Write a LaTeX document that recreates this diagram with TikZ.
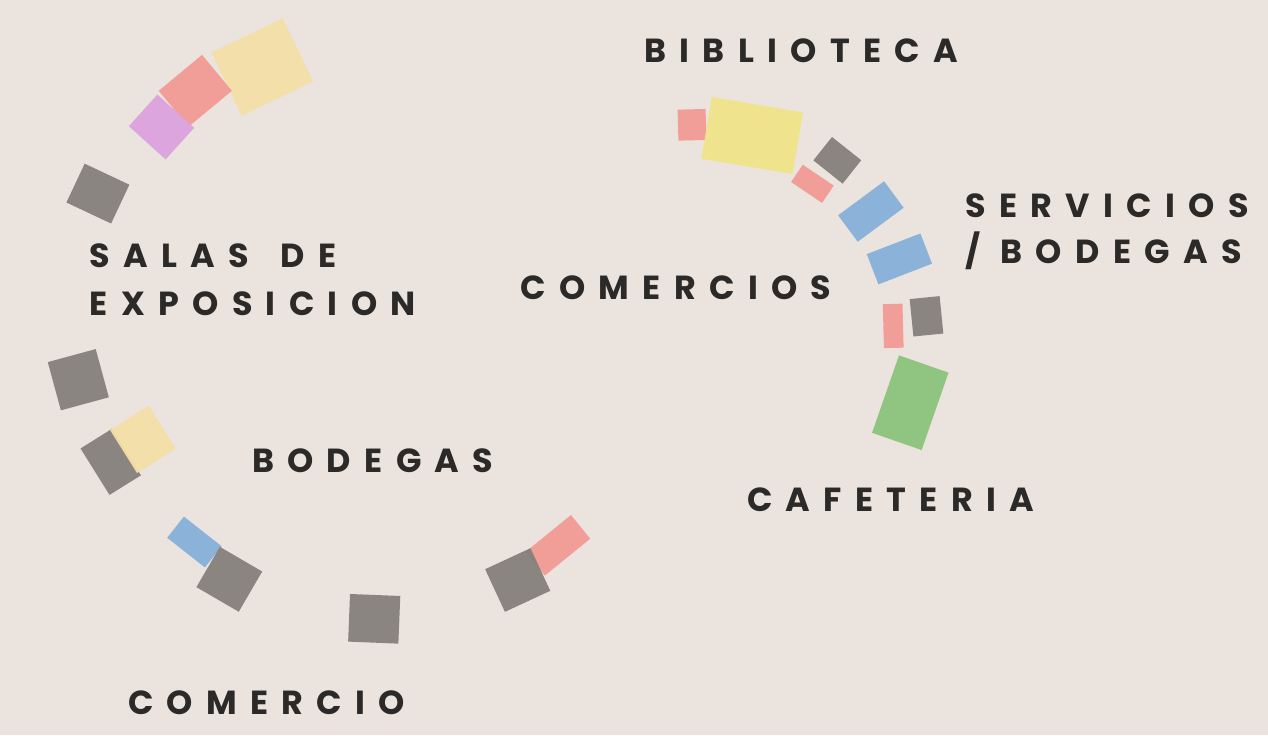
\documentclass[tikz,border=0pt]{standalone}
\usepackage{fontspec}
\newfontfamily\lblfont{Poppins}[LetterSpace=40]
\definecolor{fondo}{HTML}{EBE3DD}
\definecolor{gris}{HTML}{84807C}
\definecolor{salmon}{HTML}{F39A94}
\definecolor{crema}{HTML}{F3DFA6}
\definecolor{limon}{HTML}{F1E48A}
\definecolor{lila}{HTML}{DDA2DF}
\definecolor{celeste}{HTML}{86B1DA}
\definecolor{verde}{HTML}{8AC47C}
\definecolor{tinta}{HTML}{2B2A28}
\tikzset{
  tile/.style n args={3}{draw=none, inner sep=0pt, outer sep=0pt, fill opacity=0.94,
    minimum width=#1*0.2mm, minimum height=#2*0.2mm, rotate=#3},
  zona/.style={font=\lblfont\bfseries\fontsize{19}{22}\selectfont, text=tinta,
    inner sep=0pt, anchor=base west},
}

\begin{document}
\begin{tikzpicture}[x=0.02cm, y=-0.02cm]
\useasboundingbox (0,0) rectangle (1268,735);
\fill[fondo] (0,0) rectangle (1268,735);
% arco izquierdo
\node[tile={79.2}{70}{25.8}, fill=crema] (t1) at (262.2,67) {};
\node[tile={56.3}{46.7}{39.7}, fill=salmon] (t2) at (195.3,90.8) {};
\node[tile={42.6}{49.6}{47.9}, fill=lila] (t3) at (161.5,127) {};
\node[tile={49.4}{42.9}{-25.2}, fill=gris] (t4) at (97.9,193.6) {};
\node[tile={49.7}{50}{15.2}, fill=gris] (t5) at (78.3,379.7) {};
\node[tile={37}{54.8}{32}, fill=gris] (t6) at (110.7,461.9) {};
\node[tile={45.7}{50.8}{32.1}, fill=crema] (t7) at (142.9,439.4) {};
\node[tile={48}{27}{-38.2}, fill=celeste] (t8) at (194.4,542) {};
\node[tile={49}{46.6}{-30.2}, fill=gris] (t9) at (229.3,579.3) {};
\node[tile={50.3}{47.7}{-2.3}, fill=gris] (t10) at (374.2,618.8) {};
\node[tile={58.5}{30.5}{39.1}, fill=salmon] (t11) at (557.9,545.3) {};
\node[tile={50}{47}{24.9}, fill=gris] (t12) at (517.7,580) {};
% arco derecho
\node[tile={28}{31}{1.5}, fill=salmon] (t13) at (692,124.8) {};
\node[tile={92.6}{62.6}{-9.5}, fill=limon] (t14) at (752.2,135.5) {};
\node[tile={37.4}{29.9}{-38.5}, fill=gris] (t15) at (837.3,160.3) {};
\node[tile={37.4}{20.9}{-34.1}, fill=salmon] (t16) at (812.4,183.8) {};
\node[tile={57.2}{32.9}{36.5}, fill=celeste] (t17) at (870.9,211.5) {};
\node[tile={57.5}{32.4}{21.1}, fill=celeste] (t18) at (899.4,258.9) {};
\node[tile={19.7}{44}{1.5}, fill=salmon] (t19) at (893.2,325.9) {};
\node[tile={30.1}{37.6}{5.7}, fill=gris] (t20) at (926.5,316.3) {};
\node[tile={52.5}{82}{-19.2}, fill=verde] (t21) at (910.3,402.7) {};
% nombres
\node[zona] (biblio) at (644,62.7) {BIBLIOTECA};
\node[zona] (serv) at (965,217.7) {SERVICIOS};
\node[zona] (servb) at (965,263.3) {/\hspace{0.6em}BODEGAS};
\node[zona] (comercios) at (520,299.3) {COMERCIOS};
\node[zona] (salas) at (89.3,267.7) {SALAS\hspace{0.33em} DE};
\node[zona] (salasb) at (89.3,315) {EXPOSICION};
\node[zona] (bodegas) at (251.7,472.7) {BODEGAS};
\node[zona] (cafe) at (746.7,511) {CAFETERIA};
\node[zona] (comercio) at (127.7,714.3) {COMERCIO};
\end{tikzpicture}
\end{document}
